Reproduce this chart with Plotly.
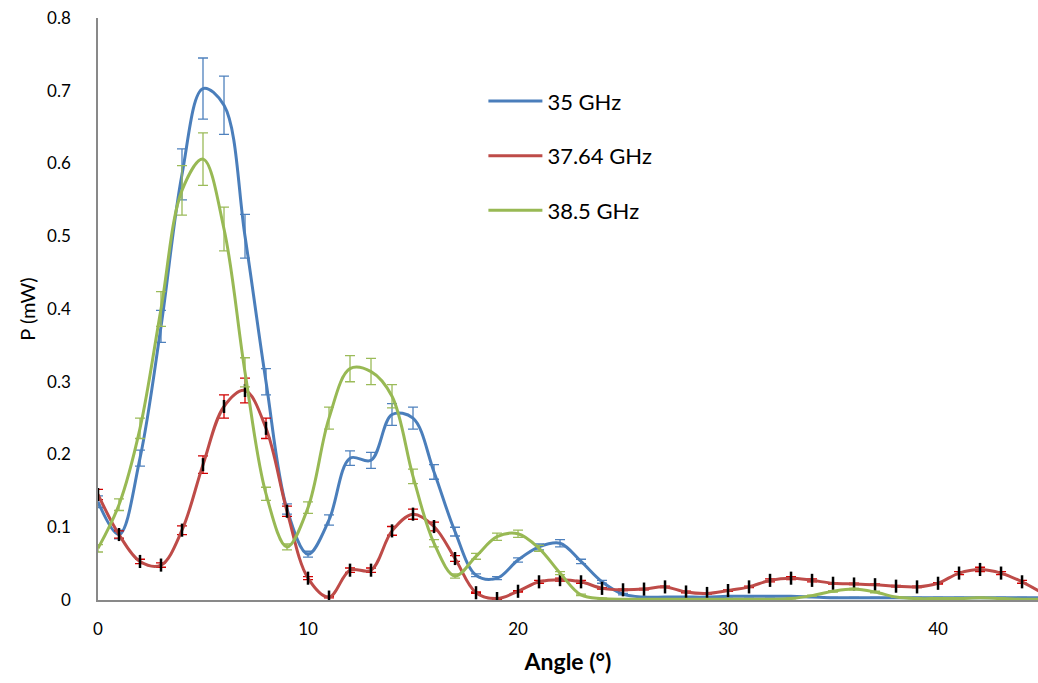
import plotly.graph_objects as go

# Measured power versus angle for three frequencies (1° steps)
angle = list(range(0, 46))

p_35 = [0.135, 0.090, 0.195, 0.376, 0.585, 0.703, 0.680, 0.500, 0.300, 0.125,
        0.063, 0.110, 0.195, 0.192, 0.255, 0.250, 0.176, 0.094, 0.034, 0.030,
        0.055, 0.073, 0.078, 0.053, 0.025, 0.008, 0.004, 0.004, 0.004, 0.004,
        0.005, 0.005, 0.005, 0.005, 0.004, 0.003, 0.003, 0.003, 0.003, 0.003,
        0.003, 0.003, 0.003, 0.003, 0.003, 0.003]
err_35 = [0.008, 0.006, 0.011, 0.022, 0.035, 0.042, 0.040, 0.030, 0.018, 0.007,
          0.004, 0.007, 0.010, 0.011, 0.015, 0.015, 0.010, 0.006, 0.002, 0.002,
          0.003, 0.004, 0.005, 0.003, 0.002, 0.001, 0.0005, 0.0005, 0.0005, 0.0005,
          0.0005, 0.0005, 0.0005, 0.0005, 0.0005, 0.0005, 0.0005, 0.0005, 0.0005, 0.0005,
          0.0005, 0.0005, 0.0005, 0.0005, 0.0005, 0.0005]

p_3764 = [0.145, 0.090, 0.053, 0.048, 0.096, 0.186, 0.266, 0.288, 0.236, 0.122,
          0.030, 0.004, 0.041, 0.041, 0.095, 0.118, 0.101, 0.057, 0.010, 0.002,
          0.012, 0.025, 0.028, 0.025, 0.016, 0.014, 0.015, 0.018, 0.011, 0.009,
          0.013, 0.018, 0.027, 0.030, 0.027, 0.023, 0.022, 0.021, 0.019, 0.018,
          0.023, 0.037, 0.042, 0.037, 0.025, 0.009]
err_3764 = [0.007, 0.005, 0.003, 0.003, 0.006, 0.012, 0.016, 0.017, 0.014, 0.007,
            0.002, 0.001, 0.003, 0.003, 0.006, 0.007, 0.006, 0.004, 0.001, 0.001,
            0.001, 0.002, 0.002, 0.002, 0.001, 0.001, 0.001, 0.001, 0.001, 0.001,
            0.001, 0.001, 0.002, 0.002, 0.002, 0.001, 0.001, 0.001, 0.001, 0.001,
            0.001, 0.002, 0.003, 0.002, 0.002, 0.001]
# secondary (black) uncertainty stems on the 37.64 GHz points
stem_3764 = [0.009] * 46

p_385 = [0.071, 0.131, 0.236, 0.400, 0.563, 0.606, 0.510, 0.313, 0.146, 0.073,
         0.127, 0.250, 0.318, 0.314, 0.280, 0.170, 0.078, 0.033, 0.060, 0.087,
         0.091, 0.071, 0.037, 0.007, 0.002, 0.001, 0.001, 0.001, 0.001, 0.001,
         0.001, 0.001, 0.001, 0.002, 0.006, 0.012, 0.015, 0.011, 0.004, 0.002,
         0.002, 0.002, 0.003, 0.002, 0.001, 0.001]
err_385 = [0.005, 0.008, 0.014, 0.024, 0.034, 0.036, 0.030, 0.020, 0.009, 0.004,
           0.008, 0.015, 0.018, 0.018, 0.016, 0.010, 0.005, 0.003, 0.004, 0.005,
           0.005, 0.004, 0.002, 0.001, 0.0005, 0.0005, 0.0005, 0.0005, 0.0005, 0.0005,
           0.0005, 0.0005, 0.0005, 0.0005, 0.0005, 0.001, 0.001, 0.001, 0.0005, 0.0005,
           0.0005, 0.0005, 0.0005, 0.0005, 0.0005, 0.0005]

x_ticks = [0, 10, 20, 30, 40]
y_ticks = [0, 0.1, 0.2, 0.3, 0.4, 0.5, 0.6, 0.7, 0.8]
y_tick_text = ["0", "0.1", "0.2", "0.3", "0.4", "0.5", "0.6", "0.7", "0.8"]

FONT = "Lato"

fig = go.Figure()

fig.add_trace(go.Scatter(
    x=angle, y=p_35, name="35 GHz", mode="lines", legendgroup="a",
    line=dict(color="#4A7EBB", width=3, shape="spline", smoothing=1),
    error_y=dict(type="data", array=err_35, visible=True,
                 color="#4F81BD", thickness=1.3, width=5),
))

fig.add_trace(go.Scatter(
    x=angle, y=p_3764, name="37.64 GHz", mode="lines", legendgroup="b",
    line=dict(color="#BE4B48", width=3, shape="spline", smoothing=1),
    error_y=dict(type="data", array=err_3764, visible=True,
                 color="#D00000", thickness=1.3, width=5),
))

fig.add_trace(go.Scatter(
    x=angle, y=p_3764, mode="markers", showlegend=False, hoverinfo="skip",
    marker=dict(size=1, color="rgba(0,0,0,0)"),
    error_y=dict(type="data", array=stem_3764, visible=True,
                 color="#000000", thickness=2.5, width=0),
))

fig.add_trace(go.Scatter(
    x=angle, y=p_385, name="38.5 GHz", mode="lines", legendgroup="c",
    line=dict(color="#98B954", width=3, shape="spline", smoothing=1),
    error_y=dict(type="data", array=err_385, visible=True,
                 color="#9BBB59", thickness=1.3, width=5),
))

fig.update_layout(
    width=1038, height=683,
    margin=dict(l=98, r=0, t=18, b=83),
    paper_bgcolor="white", plot_bgcolor="white",
    font=dict(family=FONT, size=17, color="#000000"),
    showlegend=True,
    legend=dict(
        x=0.41, y=0.893, xanchor="left", yanchor="top",
        bgcolor="rgba(0,0,0,0)", borderwidth=0,
        font=dict(family=FONT, size=22, color="#000000"),
        tracegroupgap=23, itemwidth=54,
    ),
    xaxis=dict(
        range=[0, 44.76],
        tickmode="array", tickvals=x_ticks,
        ticks="outside", ticklen=13, tickcolor="rgba(0,0,0,0)",
        showgrid=False, zeroline=False,
        showline=True, linecolor="#898989", linewidth=1.5,
        tickfont=dict(family=FONT, size=17),
        title=dict(text="<b>Angle (°)</b>", font=dict(family=FONT, size=23), standoff=16),
    ),
    yaxis=dict(
        range=[0, 0.8],
        tickmode="array", tickvals=y_ticks, ticktext=y_tick_text,
        ticks="outside", ticklen=22, tickcolor="rgba(0,0,0,0)",
        showgrid=False, zeroline=False,
        showline=True, linecolor="#898989", linewidth=1.5,
        tickfont=dict(family=FONT, size=17),
        title=dict(text="P (mW)", font=dict(family=FONT, size=20), standoff=6),
    ),
)

fig.write_html("out.html")
